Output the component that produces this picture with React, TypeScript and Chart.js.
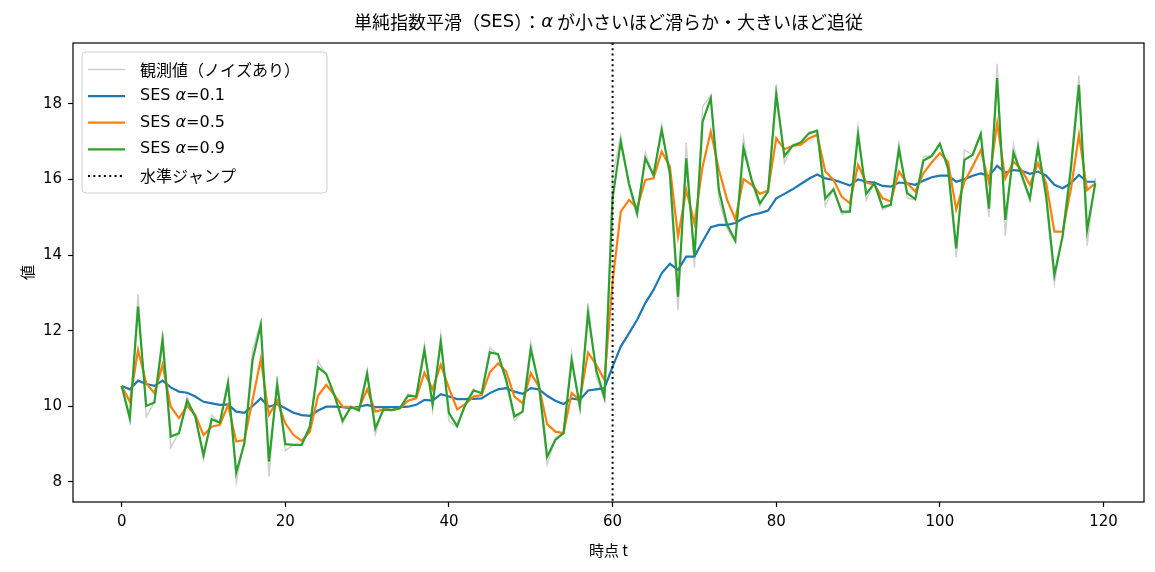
import React, { useEffect, useRef } from "react";
import { Chart, registerables } from "chart.js";

Chart.register(...registerables);

// ---- data ----
const TIME: number[] = Array.from({ length: 120 }, (_, i) => i);

const OBSERVED: number[] = [
  10.54, 9.6, 12.97, 9.72, 10.11, 11.94, 8.92, 9.3, 10.25, 9.68,
  8.6, 9.77, 9.56, 10.73, 7.99, 9.11, 11.48, 12.25, 8.14, 10.8,
  8.83, 8.98, 8.98, 9.51, 11.2, 10.84, 10.24, 9.54, 10.02, 9.88,
  10.97, 9.26, 9.98, 9.9, 9.96, 10.32, 10.26, 11.63, 9.9, 11.89,
  9.61, 9.44, 10.1, 10.46, 10.34, 11.55, 11.37, 10.62, 9.62, 9.87,
  11.69, 10.47, 8.46, 9.16, 9.31, 11.42, 9.88, 12.73, 10.79, 10.16,
  16.08, 17.17, 15.78, 15.02, 16.72, 16.07, 17.44, 16.04, 12.54, 16.97,
  13.67, 17.93, 18.22, 15.45, 14.7, 14.33, 17.1, 15.9, 15.3, 15.71,
  18.52, 16.44, 16.92, 16.99, 17.25, 17.3, 15.3, 15.77, 15.08, 15.15,
  17.41, 15.45, 15.93, 15.2, 15.34, 16.96, 15.51, 15.46, 16.61, 16.63,
  16.98, 16.23, 13.94, 16.78, 16.66, 17.26, 15.01, 19.06, 14.51, 16.91,
  16.05, 15.43, 17.0, 15.41, 13.25, 14.6, 16.45, 18.75, 14.25, 16.04,
];

const SES_01: number[] = [
  10.54, 10.45, 10.68, 10.59, 10.54, 10.68, 10.5, 10.39, 10.36, 10.26,
  10.12, 10.08, 10.04, 10.05, 9.86, 9.83, 10.01, 10.21, 9.99, 10.06,
  9.95, 9.83, 9.77, 9.75, 9.89, 9.99, 9.99, 9.98, 9.95, 9.99,
  10.04, 9.98, 9.98, 9.98, 9.98, 9.99, 10.04, 10.17, 10.15, 10.32,
  10.26, 10.19, 10.19, 10.2, 10.21, 10.35, 10.45, 10.48, 10.39, 10.33,
  10.48, 10.45, 10.28, 10.15, 10.06, 10.21, 10.17, 10.42, 10.45, 10.48,
  11.05, 11.58, 11.93, 12.29, 12.73, 13.08, 13.52, 13.77, 13.61, 13.96,
  13.96, 14.36, 14.74, 14.8, 14.8, 14.85, 14.98, 15.06, 15.11, 15.18,
  15.5, 15.62, 15.74, 15.88, 16.02, 16.13, 16.03, 15.99, 15.92, 15.84,
  16.0, 15.94, 15.92, 15.83, 15.81, 15.92, 15.9, 15.86, 15.97, 16.06,
  16.1, 16.1, 15.94, 16.01, 16.1, 16.16, 16.09, 16.36, 16.18, 16.25,
  16.23, 16.15, 16.21, 16.1, 15.86, 15.77, 15.9, 16.12, 15.94, 15.94,
];

const SES_05: number[] = [
  10.54, 10.12, 11.49, 10.61, 10.35, 11.1, 9.99, 9.69, 10.01, 9.77,
  9.24, 9.46, 9.51, 10.04, 9.07, 9.11, 10.17, 11.25, 9.77, 10.15,
  9.55, 9.24, 9.09, 9.33, 10.28, 10.57, 10.3, 9.99, 9.98, 9.95,
  10.45, 9.86, 9.92, 9.9, 9.95, 10.15, 10.21, 10.89, 10.45, 11.1,
  10.48, 9.92, 10.06, 10.26, 10.3, 10.9, 11.14, 10.92, 10.26, 10.08,
  10.88, 10.52, 9.53, 9.33, 9.29, 10.35, 10.17, 11.42, 11.1, 10.7,
  13.3, 15.15, 15.46, 15.25, 15.99, 16.03, 16.74, 16.34, 14.49, 15.72,
  14.84, 16.34, 17.27, 16.25, 15.46, 14.95, 16.01, 15.86, 15.62, 15.71,
  17.09, 16.8, 16.89, 16.92, 17.09, 17.18, 16.21, 15.99, 15.55, 15.37,
  16.39, 15.92, 15.86, 15.5, 15.42, 16.21, 15.9, 15.68, 16.17, 16.45,
  16.7, 16.47, 15.21, 15.94, 16.34, 16.78, 15.92, 17.49, 16.03, 16.47,
  16.25, 15.86, 16.43, 15.9, 14.62, 14.62, 15.72, 17.18, 15.72, 15.9,
];

const SES_09: number[] = [
  10.54, 9.69, 12.64, 10.01, 10.1, 11.76, 9.2, 9.29, 10.15, 9.73,
  8.71, 9.66, 9.57, 10.61, 8.25, 9.02, 11.23, 12.15, 8.54, 10.57,
  9.0, 8.98, 8.98, 9.46, 11.03, 10.86, 10.3, 9.62, 9.98, 9.89,
  10.86, 9.42, 9.92, 9.9, 9.95, 10.28, 10.26, 11.49, 10.06, 11.71,
  9.82, 9.48, 10.04, 10.42, 10.35, 11.43, 11.38, 10.7, 9.73, 9.86,
  11.51, 10.57, 8.67, 9.11, 9.29, 11.21, 10.01, 12.46, 10.96, 10.24,
  15.5, 17.0, 15.9, 15.11, 16.56, 16.12, 17.31, 16.17, 12.9, 16.56,
  13.96, 17.53, 18.15, 15.72, 14.8, 14.38, 16.83, 15.99, 15.37, 15.68,
  18.24, 16.62, 16.89, 16.98, 17.22, 17.29, 15.5, 15.74, 15.15, 15.15,
  17.18, 15.62, 15.9, 15.27, 15.33, 16.8, 15.64, 15.48, 16.5, 16.62,
  16.94, 16.3, 14.18, 16.52, 16.65, 17.2, 15.23, 18.68, 14.93, 16.71,
  16.12, 15.5, 16.85, 15.55, 13.48, 14.49, 16.25, 18.5, 14.67, 15.9,
];

const JUMP_T = 60;
const X_TICKS: number[] = [0, 20, 40, 60, 80, 100, 120];
const Y_TICKS: number[] = [8, 10, 12, 14, 16, 18];

type Part = { text: string; italic?: boolean; cjk?: boolean };

const TITLE_PARTS: Part[] = [
  { text: "単純指数平滑（", cjk: true },
  { text: "SES" },
  { text: "）：", cjk: true },
  { text: "α", italic: true },
  { text: " が小さいほど滑らか・大きいほど追従", cjk: true },
];
const X_LABEL = "時点 t";
const Y_LABEL = "値";
const LEGEND_LABELS: Part[][] = [
  [{ text: "観測値（ノイズあり）", cjk: true }],
  [{ text: "SES " }, { text: "α", italic: true }, { text: "=0.1" }],
  [{ text: "SES " }, { text: "α", italic: true }, { text: "=0.5" }],
  [{ text: "SES " }, { text: "α", italic: true }, { text: "=0.9" }],
  [{ text: "水準ジャンプ", cjk: true }],
];

// ---- styling ----
const FONT = '"DejaVu Sans", "Noto Sans CJK JP", sans-serif';
const FONT_CJK = '"Noto Sans CJK JP", "DejaVu Sans", sans-serif';
const C_OBS = "rgba(150,150,150,0.45)";
const C_01 = "#1f77b4";
const C_05 = "#ff7f0e";
const C_09 = "#2ca02c";

function drawRich(
  ctx: CanvasRenderingContext2D,
  parts: Part[],
  x: number,
  y: number,
  size: number,
  align: "left" | "center"
) {
  const fontOf = (p: Part) => `${p.italic ? "italic " : ""}${size}px ${p.cjk ? FONT_CJK : FONT}`;
  let total = 0;
  const widths = parts.map((p) => {
    ctx.font = fontOf(p);
    const w = ctx.measureText(p.text).width;
    total += w;
    return w;
  });
  let cx = align === "center" ? x - total / 2 : x;
  ctx.textAlign = "left";
  ctx.textBaseline = "middle";
  parts.forEach((p, i) => {
    ctx.font = fontOf(p);
    ctx.fillText(p.text, cx, y);
    cx += widths[i];
  });
}

const framePlugin = {
  id: "frameAndExtras",
  afterDatasetsDraw(chart: any) {
    const { ctx, chartArea, scales } = chart;
    const xp = scales.x.getPixelForValue(JUMP_T);
    ctx.save();
    ctx.strokeStyle = "#000";
    ctx.lineWidth = 2;
    ctx.setLineDash([2, 3.3]);
    ctx.beginPath();
    ctx.moveTo(xp, chartArea.top);
    ctx.lineTo(xp, chartArea.bottom);
    ctx.stroke();
    ctx.restore();
  },
  afterDraw(chart: any) {
    const { ctx, chartArea } = chart;
    ctx.save();
    ctx.strokeStyle = "#000";
    ctx.lineWidth = 1.2;
    ctx.setLineDash([]);
    ctx.strokeRect(chartArea.left, chartArea.top, chartArea.right - chartArea.left, chartArea.bottom - chartArea.top);
    ctx.fillStyle = "#000";
    drawRich(ctx, TITLE_PARTS, (chartArea.left + chartArea.right) / 2, 22, 18, "center");
    const bx = chartArea.left + 9;
    const by = chartArea.top + 9;
    const bw = 245;
    const bh = 141;
    ctx.beginPath();
    ctx.roundRect(bx, by, bw, bh, 4);
    ctx.fillStyle = "rgba(255,255,255,0.8)";
    ctx.fill();
    ctx.strokeStyle = "#d0d0d0";
    ctx.lineWidth = 1;
    ctx.stroke();
    const styles = [
      { color: C_OBS, width: 1.5, dash: [] as number[] },
      { color: C_01, width: 2.2, dash: [] as number[] },
      { color: C_05, width: 2.2, dash: [] as number[] },
      { color: C_09, width: 2.2, dash: [] as number[] },
      { color: "#000", width: 2, dash: [2, 3.3] },
    ];
    LEGEND_LABELS.forEach((parts, i) => {
      const ry = by + 17.5 + i * 26.6;
      const st = styles[i];
      ctx.beginPath();
      ctx.strokeStyle = st.color;
      ctx.lineWidth = st.width;
      ctx.setLineDash(st.dash);
      ctx.moveTo(bx + 6, ry);
      ctx.lineTo(bx + 43, ry);
      ctx.stroke();
      ctx.setLineDash([]);
      ctx.fillStyle = "#000";
      drawRich(ctx, parts, bx + 58, ry, 16, "left");
    });
    ctx.restore();
  },
};

export default function App() {
  const ref = useRef<HTMLCanvasElement | null>(null);
  useEffect(() => {
    document.body.style.margin = "0";
    if (!ref.current) return;
    const pts = (arr: number[]) => TIME.map((t, i) => ({ x: t, y: arr[i] }));
    const chart = new Chart(ref.current, {
      type: "line",
      data: {
        datasets: [
          { label: "SES α=0.9", data: pts(SES_09), borderColor: C_09, borderWidth: 2.2, pointRadius: 0, tension: 0, fill: false },
          { label: "SES α=0.5", data: pts(SES_05), borderColor: C_05, borderWidth: 2.2, pointRadius: 0, tension: 0, fill: false },
          { label: "SES α=0.1", data: pts(SES_01), borderColor: C_01, borderWidth: 2.2, pointRadius: 0, tension: 0, fill: false },
          { label: "観測値（ノイズあり）", data: pts(OBSERVED), borderColor: C_OBS, borderWidth: 1.5, pointRadius: 0, tension: 0, fill: false },
        ],
      },
      options: {
        animation: false,
        responsive: true,
        maintainAspectRatio: false,
        layout: { padding: { top: 43, right: 11, left: 0, bottom: 0 } },
        plugins: { legend: { display: false }, title: { display: false }, tooltip: { enabled: false } },
        scales: {
          x: {
            type: "linear",
            min: -5.95,
            max: 124.95,
            afterFit: (s: any) => { s.height = 70; },
            afterBuildTicks: (s: any) => { s.ticks = X_TICKS.map((v) => ({ value: v })); },
            ticks: { color: "#000", font: { size: 15, family: FONT }, padding: 6, includeBounds: false, maxRotation: 0 },
            grid: { display: true, drawOnChartArea: false, drawTicks: true, tickLength: 5, tickColor: "#000", tickWidth: 1.2 },
            border: { display: false },
            title: { display: true, text: X_LABEL, color: "#000", font: { size: 15, family: FONT_CJK }, padding: { top: 0, bottom: 13 } },
          },
          y: {
            type: "linear",
            min: 7.47,
            max: 19.61,
            afterFit: (s: any) => { s.width = 73; },
            afterBuildTicks: (s: any) => { s.ticks = Y_TICKS.map((v) => ({ value: v })); },
            ticks: { color: "#000", font: { size: 15, family: FONT }, padding: 6, includeBounds: false },
            grid: { display: true, drawOnChartArea: false, drawTicks: true, tickLength: 5, tickColor: "#000", tickWidth: 1.2 },
            border: { display: false },
            title: { display: true, text: Y_LABEL, color: "#000", font: { size: 15, family: FONT_CJK }, padding: { top: 18, bottom: 0 } },
          },
        },
      },
      plugins: [framePlugin],
    } as any);
    return () => chart.destroy();
  }, []);
  return (
    <div style={{ position: "absolute", left: 0, top: 0, width: 1155, height: 572 }}>
      <canvas ref={ref} />
    </div>
  );
}
